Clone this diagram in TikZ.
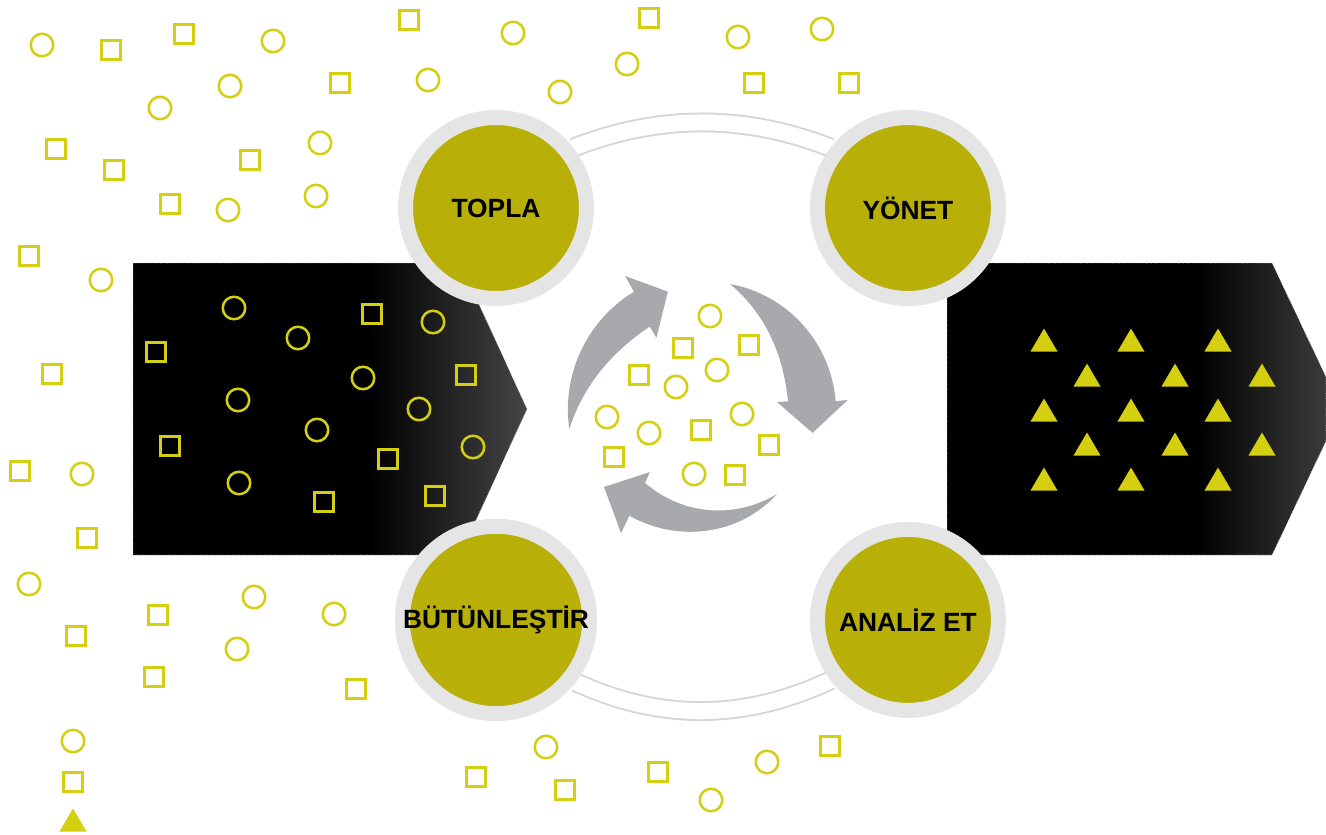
\documentclass[tikz,border=0pt]{standalone}
\usepackage{fontspec}
\setmainfont{Liberation Sans}
\usetikzlibrary{backgrounds}

\definecolor{olivefill}{RGB}{184,175,8}
\definecolor{ringgray}{RGB}{229,229,229}
\definecolor{dotyellow}{RGB}{212,207,16}
\definecolor{arrowgray}{RGB}{167,169,172}
\definecolor{arcgray}{RGB}{214,214,214}

\pgfdeclarehorizontalshading{leftfade}{100bp}{color(0bp)=(black); color(55bp)=(black); color(75bp)=(black!73); color(100bp)=(black!73)}
\pgfdeclarehorizontalshading{rightfade}{100bp}{color(0bp)=(black); color(58bp)=(black); color(75bp)=(black!77); color(100bp)=(black!77)}

\begin{document}
\begin{tikzpicture}[x=0.02cm, y=-0.02cm, node distance=8.24cm]

        \tikzstyle{stage}=[circle, fill=olivefill, draw=ringgray, line width=0.3cm, minimum size=3.62cm, inner sep=0pt, text=black, font=\bfseries\fontsize{15}{18}\selectfont]
        \tikzstyle{bubble}=[circle, draw=dotyellow, line width=0.05cm, minimum size=0.45cm, inner sep=0pt]
        \tikzstyle{sqbox}=[rectangle, draw=dotyellow, line width=0.05cm, minimum size=0.38cm, inner sep=0pt]
        \tikzstyle{block}=[shade, draw=black!22, densely dotted, line width=0.4pt]
        \tikzstyle{turn}=[fill=arrowgray]
        \tikzstyle{link}=[draw=arcgray, line width=1.1pt, double=white, double distance=0.32cm]

        \useasboundingbox (0,0) rectangle (1326,835);

        % the two big arrows
        \path[block, shading=leftfade] (133,263) -- (460,263) -- (527,409) -- (460,555) -- (133,555) -- cycle;
        \path[block, shading=rightfade] (947,263) -- (1272,263) -- (1326,377) -- (1326,441) -- (1272,555) -- (947,555) -- cycle;

        % loose circles and squares
        \foreach \x/\y [count=\i] in {42/45, 273/41, 230/86, 160/108, 320/143, 228/210, 316/196, 101/280, 428/80,
                513/33, 560/92, 627/64, 738/37, 822/29, 82/474, 29/584, 254/597, 334/614, 237/649, 73/741,
                546/747, 711/800, 767/762,
                234/308, 298/338, 363/378, 433/322, 238/400, 317/430, 419/409, 473/447, 239/483,
                710/316, 717/370, 676/387, 607/417, 649/433, 742/414, 694/474}
            \node[bubble] (b\i) at (\x,\y) {};
        \foreach \x/\y [count=\i] in {111/50, 184/34, 409/20, 340/83, 56/149, 114/170, 250/160, 170/204, 29/256,
                649/18, 754/83, 849/83, 52/374, 20/471, 87/538, 158/615, 76/636, 154/677, 356/689, 73/782,
                476/777, 565/790, 658/772, 830/746,
                156/352, 372/314, 466/375, 170/446, 388/459, 324/502, 435/496,
                683/348, 749/345, 639/375, 701/430, 769/445, 614/457, 735/475}
            \node[sqbox] (s\i) at (\x,\y) {};

        % triangles
        \foreach \x/\y in {1044/340, 1131/340, 1218/340, 1087/375, 1175/375, 1262/375,
                1044/410, 1131/410, 1218/410, 1087/444, 1175/444, 1262/444,
                1044/479, 1131/479, 1218/479, 73/820}
            \fill[dotyellow] (\x-13.5,\y+11.5) -- (\x,\y-11.5) -- (\x+13.5,\y+11.5) -- cycle;

        % stages
        \node[stage] (topla)                    at (496,208) {TOPLA};
        \node[stage] (yonet)  [right of=topla]  {YÖNET};
        \node[stage] (butun)  [below of=topla]  {BÜTÜNLEŞTİR};
        \node[stage] (analiz) [right of=butun]  {ANALİZ ET};

        \begin{pgfonlayer}{background}
        \draw[link] (topla.38) .. controls (660,114) and (744,114) .. (yonet.142);
        \draw[link] (butun.-38) .. controls (660,721) and (744,721) .. (analiz.-142);
        \end{pgfonlayer}

        % turning arrows in the middle
        \begin{scope}[shift={(705,410)}, y=0.02cm, variable=\t, samples=40]
        \fill[turn] plot[domain=188:121] ({(137+(188-\t)/67)*cos(\t)}, {(137+(188-\t)/67)*sin(\t)})
            -- (120.8:156) -- (107.4:124) -- (124:87)
            -- plot[domain=123.5:188] ({(100+37*((\t-123.5)/64.5)^2)*cos(\t)}, {(100+37*((\t-123.5)/64.5)^2)*sin(\t)}) -- cycle;
        \fill[turn] plot[domain=78.8:3.9] ({(128.5+2.5*(78.8-\t)/74.9)*cos(\t)}, {(128.5+2.5*(78.8-\t)/74.9)*sin(\t)})
            -- (4:143) -- (-12:110) -- (6.3:72.4)
            -- plot[domain=6:78.8] ({(83.5+45*((\t-6)/72.8)^2)*cos(\t)}, {(83.5+45*((\t-6)/72.8)^2)*sin(\t)}) -- cycle;
        \fill[turn] plot[domain=310.6:234.4] ({(110.6+19.4*(310.6-\t)/76.2)*cos(\t)}, {(110.6+19.4*(310.6-\t)/76.2)*sin(\t)})
            -- (235.7:149) -- (217.3:127) -- (228.4:83)
            -- plot[domain=230.6:310.6] ({(94.5+16.1*((\t-230.6)/80)^1.6)*cos(\t)}, {(94.5+16.1*((\t-230.6)/80)^1.6)*sin(\t)}) -- cycle;
        \end{scope}

\end{tikzpicture}
\end{document}
